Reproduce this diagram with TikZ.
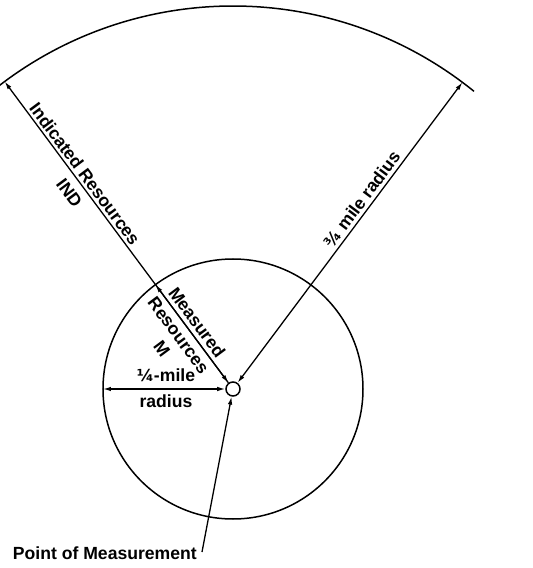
\documentclass[tikz,border=0pt]{standalone}
\usepackage{fontspec}
\setmainfont{Liberation Sans}
\newfontfamily\dvfont{DejaVu Sans}
\usetikzlibrary{arrows.meta,calc}
\newcommand{\fracg}[1]{{\dvfont\fontsize{16.5}{17}\selectfont #1}}
\begin{document}
\begin{tikzpicture}[x=1pt,y=1pt,
  lab/.style={font=\bfseries\fontsize{17.6}{19}\selectfont, inner sep=0pt},
  ln/.style={line width=1.5pt},
  arr/.style={line width=1.3pt, {Latex[length=8pt,width=4.5pt]}-{Latex[length=8pt,width=4.5pt]}},
  arrend/.style={line width=1.3pt, -{Latex[length=8pt,width=4.5pt]}}]
\useasboundingbox (-233,-179) rectangle (300,389);
% point of measurement
\node[draw, circle, ln, minimum size=14pt, inner sep=0pt, fill=white] (c) at (0,0) {};
% circles
\draw[ln] (0,0) circle[radius=130];
\draw[ln] (51:383) arc[start angle=51, end angle=128, radius=383];
\coordinate (L) at (126.6:383);
\coordinate (R) at (53.2:383);
\coordinate (X) at (126.6:130);
\coordinate (W) at (180:130);
% connectors
\draw[arr] (c) -- (L);
\draw[arrend] (c) -- (X);
\draw[arr] (c) -- (R);
\draw[arr] (W) -- (c);
% labels on left line
\node[lab, rotate=-53.4] (ir) at ($(126.6:261)+(36.6:9.5)$) {Indicated Resources};
\node[lab, rotate=-53.4] (ind) at ($(126.6:255)+(-143.4:14.6)$) {IND};
\node[lab, rotate=-53.4] (mea) at ($(126.6:75)+(36.6:11)$) {Measured};
\node[lab, rotate=-53.4] (res) at ($(126.6:75.5)+(-143.4:11.8)$) {Resources};
\node[lab, rotate=-53.4] (m) at ($(126.6:75)+(-143.4:33)$) {M};
% right line label
\node[lab, rotate=53.2] (big) at ($(53.2:229)+(143.2:10.5)$) {\fracg{¾} mile radius};
% horizontal labels
\node[lab] (q1) at (-67,14) {\fracg{¼}-mile};
\node[lab] (q2) at (-67,-12) {radius};
% point of measurement label
\node[lab, anchor=east] (pm) at (-36,-164) {Point of Measurement};
\coordinate (pmtop) at (-31,-163);
\draw[arrend] (pmtop) -- (c);
\end{tikzpicture}
\end{document}
